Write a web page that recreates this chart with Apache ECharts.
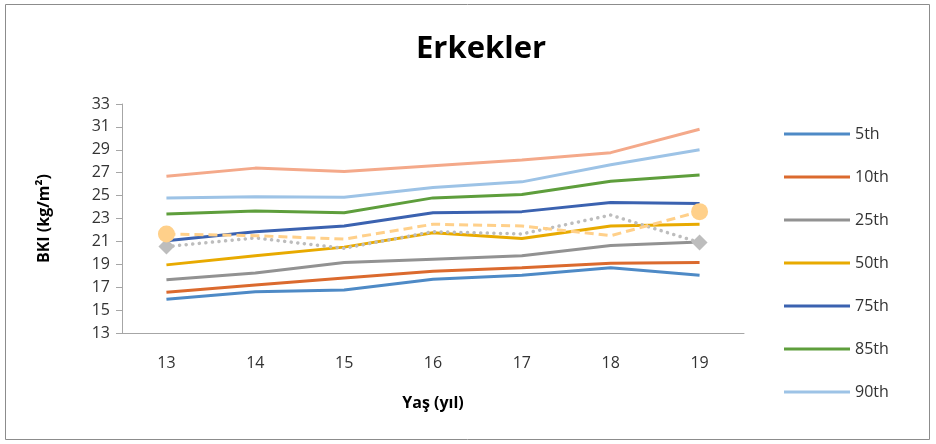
<!DOCTYPE html>
<html>
<head>
<meta charset="utf-8">
<script src="https://cdn.jsdelivr.net/npm/echarts@6/dist/echarts.min.js"></script>
<style>
  html, body { margin: 0; padding: 0; background: #fff; }
  #container { width: 936px; height: 444px; }
</style>
</head>
<body>
<div id="container"></div>
<script type="text/javascript">
    var ages = ['13', '14', '15', '16', '17', '18', '19'];
    var yTicks = [13, 33, 2];

    var p5  = [15.95, 16.6, 16.75, 17.7, 18.05, 18.7, 18.05];
    var p10 = [16.55, 17.2, 17.8, 18.4, 18.7, 19.1, 19.15];
    var p25 = [17.65, 18.25, 19.15, 19.45, 19.75, 20.65, 20.95];
    var p50 = [18.95, 19.75, 20.5, 21.75, 21.25, 22.35, 22.5];
    var p75 = [21.05, 21.85, 22.35, 23.5, 23.6, 24.4, 24.3];
    var p85 = [23.4, 23.65, 23.5, 24.8, 25.1, 26.25, 26.8];
    var p90 = [24.8, 24.9, 24.85, 25.7, 26.2, 27.7, 29.0];
    var p95 = [26.7, 27.4, 27.1, 27.6, 28.1, 28.75, 30.8];
    var dashedSeries = [21.65, 21.5, 21.2, 22.5, 22.35, 21.5, 23.6];
    var dottedSeries = [20.55, 21.3, 20.4, 21.85, 21.65, 23.3, 20.9];

    var legendNames = ['5th', '10th', '25th', '50th', '75th', '85th', '90th'];

    function line(name, data, color) {
        return {
            name: name,
            type: 'line',
            data: data,
            symbol: 'none',
            lineStyle: { color: color, width: 3 },
            itemStyle: { color: color },
            z: 2
        };
    }

    // markers only at the first and last point, like the original
    function endMarks(data, symbol, size) {
        return data.map(function (v, i) {
            if (i === 0 || i === data.length - 1) {
                return { value: v, symbol: symbol, symbolSize: size };
            }
            return { value: v, symbol: 'none' };
        });
    }

    var dom = document.getElementById('container');
    var myChart = echarts.init(dom);
    var option = {
        backgroundColor: '#fff',
        animation: false,
        title: {
            text: 'Erkekler',
            left: 476,
            top: 29,
            textAlign: 'center',
            textStyle: {
                fontFamily: 'Open Sans',
                fontWeight: 'bold',
                fontSize: 31,
                color: '#000'
            }
        },
        graphic: [{
            type: 'rect',
            shape: { x: 5.5, y: 4.5, width: 924, height: 435 },
            style: { fill: 'none', stroke: '#8c8c8c', lineWidth: 1 }
        }],
        legend: {
            data: legendNames,
            orient: 'vertical',
            left: 779,
            top: 121,
            itemWidth: 66,
            itemHeight: 20,
            itemGap: 27,
            icon: 'path://M0,9 L66,9 L66,12 L0,12 Z',
            textStyle: { fontFamily: 'Open Sans', fontSize: 16, color: '#333' }
        },
        grid: { left: 122, right: 192, top: 104, bottom: 111 },
        xAxis: {
            type: 'category',
            data: ages,
            boundaryGap: true,
            name: 'Yaş (yıl)',
            nameLocation: 'middle',
            nameGap: 62,
            nameTextStyle: { fontFamily: 'Open Sans', fontWeight: 'bold', fontSize: 16, color: '#000' },
            axisLine: { lineStyle: { color: '#a6a6a6', width: 1 } },
            axisTick: { show: false },
            axisLabel: { fontFamily: 'Open Sans', fontSize: 16, color: '#333', margin: 22 }
        },
        yAxis: {
            type: 'value',
            min: yTicks[0],
            max: yTicks[1],
            interval: yTicks[2],
            name: 'BKI (kg/m²)',
            nameLocation: 'middle',
            nameGap: 70,
            nameTextStyle: { fontFamily: 'Open Sans', fontWeight: 'bold', fontSize: 16, color: '#000' },
            splitLine: { show: false },
            axisLine: { show: true, lineStyle: { color: '#a6a6a6', width: 1 } },
            axisTick: { show: true, inside: false, length: 6, lineStyle: { color: '#a6a6a6' } },
            axisLabel: { fontFamily: 'Open Sans', fontSize: 16, color: '#333', margin: 12 }
        },
        series: [
            line('95th', p95, '#F4A98A'),
            line('90th', p90, '#9DC3E6'),
            line('85th', p85, '#5E9E3C'),
            line('75th', p75, '#3B62B0'),
            line('50th', p50, '#E8AA00'),
            line('25th', p25, '#929292'),
            line('10th', p10, '#DB6A2E'),
            line('5th', p5, '#4E8AC6'),
            {
                name: 'dotted',
                type: 'line',
                data: endMarks(dottedSeries, 'diamond', 16),
                lineStyle: { color: '#BDBDBD', width: 3.5, type: [0.1, 6.5], cap: 'round' },
                itemStyle: { color: '#BDBDBD' },
                z: 3
            },
            {
                name: 'dashed',
                type: 'line',
                data: endMarks(dashedSeries, 'circle', 17),
                lineStyle: { color: '#FFD08A', width: 3, type: [9, 5] },
                itemStyle: { color: '#FFD08A' },
                z: 3
            }
        ]
    };
    myChart.setOption(option);
</script>
</body>
</html>
